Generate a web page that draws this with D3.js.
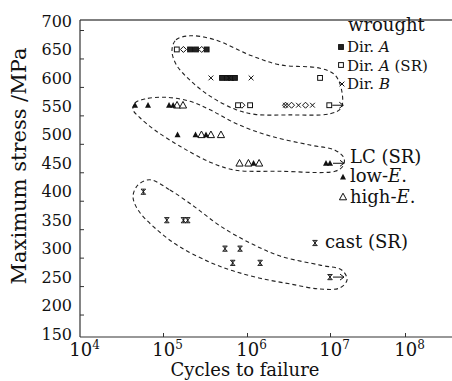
<!DOCTYPE html>
<html>
<head>
<meta charset="utf-8">
<script src="https://cdn.jsdelivr.net/npm/d3@7"></script>
<style>
  body { margin: 0; background: #fff; }
  svg { display: block; }
  text { font-family: "DejaVu Serif", "Liberation Serif", serif; fill: #111; }
</style>
</head>
<body>
<svg id="chart" width="452" height="381"></svg>
<script>
// tick labels
var yTicks = [150, 200, 250, 300, 350, 400, 450, 500, 550, 600, 650, 700];
var xTickExp = [4, 5, 6, 7, 8];

// wrought, [cycles, MPa]
var dirA = [[2.1e5, 650], [2.47e5, 650], [3.31e5, 650], [5.04e5, 600], [5.78e5, 600], [6.46e5, 600], [7.19e5, 600]];
var dirASR = [[1.46e5, 650], [7.59e6, 600], [7.82e5, 552], [1.09e6, 552], [9.8e6, 552]];
var dirB = [[3.72e5, 600], [6.1e5, 600], [1.12e6, 600], [2.91e6, 552], [4.17e6, 552], [6.15e6, 552]];
var wroughtOther = [[1.75e5, 650], [2.89e5, 650], [8.7e5, 552], [2.91e6, 552], [3.44e6, 552], [5.07e6, 552]];

// LC (SR)
var lowE = [[4.6e4, 552], [6.6e4, 552], [1.18e5, 552], [1.32e5, 552], [1.49e5, 500], [2.44e5, 500], [3.25e5, 500],
            [1.2e6, 450], [8.95e6, 450], [1.0e7, 450]];
var highE = [[1.47e5, 552], [1.73e5, 552], [2.87e5, 500], [3.72e5, 500], [4.9e5, 500],
             [8.15e5, 450], [1.04e6, 450], [1.4e6, 450]];

// cast (SR)
var cast = [[5.8e4, 400], [1.11e5, 350], [1.75e5, 350], [1.97e5, 350], [5.47e5, 300], [8.26e5, 300],
            [6.76e5, 275], [1.44e6, 275], [1.0e7, 250]];

// run-outs (no failure)
var runouts = [[9.8e6, 552], [1.0e7, 450], [1.0e7, 250]];

// dashed group outlines, [log10 cycles, MPa]
var wroughtLoop = [[5.107, 649], [5.155, 667], [5.321, 674], [5.619, 667], [6.036, 640], [6.398, 623], [6.88, 617],
  [7.067, 605], [7.16, 575], [7.147, 547], [7.0, 537], [6.518, 535], [6.096, 536], [5.857, 545], [5.56, 568],
  [5.321, 596], [5.155, 624]];
var lcLoop = [[4.639, 544], [4.663, 556], [4.783, 563], [5.024, 566], [5.321, 559], [5.56, 544], [5.881, 519],
  [6.277, 498], [6.759, 482], [7.067, 473], [7.187, 459], [7.173, 445], [7.067, 436], [6.398, 436], [5.857, 438],
  [5.56, 452], [5.202, 480], [4.904, 508], [4.723, 530]];
var castLoop = [[4.843, 421], [5.083, 403], [5.381, 373], [5.679, 340], [6.036, 310], [6.398, 287], [6.88, 271],
  [7.16, 262], [7.227, 245], [7.133, 231], [6.88, 229], [6.518, 238], [6.157, 248], [5.833, 261], [5.56, 276],
  [5.202, 303], [4.928, 333], [4.699, 368], [4.639, 392], [4.699, 412]];

var svg = d3.select("#chart");

var x = d3.scaleLog()
    .domain([1e4, 1e5, 1e6, 1e7, 1e8, Math.pow(10, 8.63)])
    .range([80, 163, 247, 330, 405, 452]);
var y = d3.scaleLinear()
    .domain([150, 700])
    .range([334, 21]);

var axisColor = "#333";

// frame lines
svg.append("line").attr("x1", 80).attr("x2", 452).attr("y1", 20).attr("y2", 20)
    .attr("stroke", "#555").attr("stroke-width", 1.5);
svg.append("line").attr("x1", 80).attr("x2", 80).attr("y1", 20).attr("y2", 337)
    .attr("stroke", axisColor).attr("stroke-width", 1.2);
svg.append("line").attr("x1", 80).attr("x2", 452).attr("y1", 337).attr("y2", 337)
    .attr("stroke", axisColor).attr("stroke-width", 1.2);

// y axis
var gy = svg.append("g")
    .attr("transform", "translate(80,0)")
    .call(d3.axisLeft(y).tickValues(yTicks).tickSize(-4).tickSizeOuter(0).tickPadding(8));
gy.select(".domain").remove();
gy.selectAll(".tick text").attr("font-size", 16).attr("font-family", "DejaVu Serif");
gy.selectAll(".tick line").attr("stroke", axisColor).attr("transform", "translate(0,9)")
    .attr("display", function(d) { return d === 150 ? "none" : null; });

// x axis
var gx = svg.append("g")
    .attr("transform", "translate(0,337)")
    .call(d3.axisBottom(x).tickValues(xTickExp.map(function(e) { return Math.pow(10, e); }))
      .tickSize(-4).tickSizeOuter(0).tickPadding(6).tickFormat(""));
gx.select(".domain").remove();
gx.selectAll(".tick line").attr("stroke", axisColor)
    .attr("display", function(d) { return d === 1e4 ? "none" : null; });
gx.selectAll(".tick text").each(function(d) {
  var t = d3.select(this).attr("font-size", 18).attr("font-family", "DejaVu Serif")
      .attr("text-anchor", "middle").attr("x", 4);
  t.append("tspan").text("10");
  t.append("tspan").attr("font-size", 12).attr("dy", "-0.6em").text(Math.round(Math.log10(d)));
});

// axis titles
svg.append("text")
    .attr("transform", "translate(26,166) rotate(-90)")
    .attr("text-anchor", "middle")
    .attr("font-size", 21)
    .text("Maximum stress /MPa");
svg.append("text")
    .attr("x", 245).attr("y", 376)
    .attr("text-anchor", "middle")
    .attr("font-size", 18)
    .text("Cycles to failure");

// dashed outlines
var loopLine = d3.line()
    .x(function(d) { return x(Math.pow(10, d[0])); })
    .y(function(d) { return y(d[1]); })
    .curve(d3.curveCatmullRomClosed.alpha(0.5));
[wroughtLoop, lcLoop, castLoop].forEach(function(loop) {
  svg.append("path").datum(loop)
      .attr("d", loopLine)
      .attr("fill", "none")
      .attr("stroke", "#222")
      .attr("stroke-width", 1.1)
      .attr("stroke-dasharray", "4,3");
});

// marker shapes
function marker(g, type) {
  var s = 2.4;
  if (type === "sqFill" || type === "sqOpen") {
    g.append("rect").attr("x", -s).attr("y", -s).attr("width", 2 * s).attr("height", 2 * s)
        .attr("fill", type === "sqFill" ? "#222" : "#fff").attr("stroke", "#111").attr("stroke-width", 1);
  } else if (type === "cross") {
    g.append("path").attr("d", "M-2.4,-2.4L2.4,2.4M-2.4,2.4L2.4,-2.4")
        .attr("stroke", "#111").attr("stroke-width", 1);
  } else if (type === "diamond") {
    g.append("path").attr("d", "M0,-3L3,0L0,3L-3,0Z")
        .attr("fill", "#fff").attr("stroke", "#111").attr("stroke-width", 1);
  } else if (type === "triFill") {
    g.append("path").attr("d", "M0,-3.2L3,2.4L-3,2.4Z").attr("fill", "#111");
  } else if (type === "triOpen") {
    g.append("path").attr("d", "M0,-3.8L3.6,2.8L-3.6,2.8Z")
        .attr("fill", "#fff").attr("stroke", "#111").attr("stroke-width", 1);
  } else if (type === "cast") {
    g.append("path").attr("d", "M-2.2,-2.6L2.2,2.6M-2.2,2.6L2.2,-2.6M-2.4,-2.6L2.4,-2.6M-2.4,2.6L2.4,2.6M0,-2.6L0,2.6")
        .attr("stroke", "#111").attr("stroke-width", 0.9);
  }
}

function plotSeries(data, type) {
  svg.append("g").selectAll("g")
    .data(data)
    .enter().append("g")
      .attr("transform", function(d) { return "translate(" + x(d[0]) + "," + y(d[1]) + ")"; })
      .each(function() { marker(d3.select(this), type); });
}

plotSeries(wroughtOther, "diamond");
plotSeries(dirASR, "sqOpen");
plotSeries(dirA, "sqFill");
plotSeries(dirB, "cross");
plotSeries(highE, "triOpen");
plotSeries(lowE, "triFill");
plotSeries(cast, "cast");

// run-out arrows
svg.append("g").selectAll("path")
  .data(runouts)
  .enter().append("path")
    .attr("d", function(d) {
      var px = x(d[0]), py = y(d[1]);
      return "M" + (px + 3) + "," + py + "L" + (px + 14) + "," + py +
             "M" + (px + 10) + "," + (py - 3) + "L" + (px + 14) + "," + py + "L" + (px + 10) + "," + (py + 3);
    })
    .attr("fill", "none").attr("stroke", "#111").attr("stroke-width", 1);

// legend
var leg = svg.append("g").attr("font-size", 15);
function legText(tx, ty, parts, size) {
  var t = leg.append("text").attr("x", tx).attr("y", ty);
  if (size) t.attr("font-size", size);
  parts.forEach(function(p) {
    var sp = t.append("tspan").text(p[0]);
    if (p[1]) sp.attr("font-style", "italic");
  });
}
function legMarker(mx, my, type) {
  var g = leg.append("g").attr("transform", "translate(" + mx + "," + my + ")");
  marker(g, type);
}

legText(348, 31, [["wrought"]], 18);
legMarker(341, 47, "sqFill");  legText(347, 52, [["Dir. "], ["A", true]]);
legMarker(341, 65, "sqOpen");  legText(347, 70.5, [["Dir. "], ["A", true], [" (SR)"]]);
legMarker(342, 84, "cross");   legText(347, 89, [["Dir. "], ["B", true]]);

legText(350, 163, [["LC (SR)"]], 18);
legMarker(343, 177, "triFill"); legText(350, 182, [["low-"], ["E", true], ["."]], 18);
legMarker(343, 197, "triOpen"); legText(350, 203, [["high-"], ["E", true], ["."]], 18);

legMarker(315, 243, "cast");    legText(325, 248, [["cast (SR)"]], 18);
</script>
</body>
</html>
